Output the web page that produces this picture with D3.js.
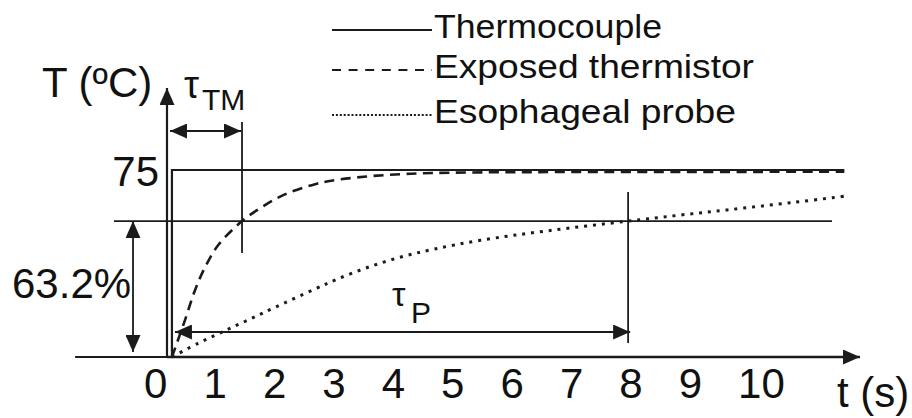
<!DOCTYPE html>
<html>
<head>
<meta charset="utf-8">
<script src="https://cdn.jsdelivr.net/npm/d3@7"></script>
<style>
  html, body { margin: 0; padding: 0; background: #fff; }
  svg { display: block; font-family: "Liberation Sans", Arial, sans-serif; }
</style>
</head>
<body>
<svg id="chart" width="912" height="418"></svg>
<script>
// values (t in s, T in the drawn temperature units)
const tickValues = [0, 1, 2, 3, 4, 5, 6, 7, 8, 9, 10];
const yTickValues = [75];

const thermoT = [-1.35, 0.28, 0.28, 11.6];
const thermoV = [0, 0, 75, 75];

const thermistorT = [0.28, 0.50, 0.67, 0.84, 1.06, 1.46, 1.80, 2.18, 2.69, 2.99, 3.56, 4.12, 4.68, 5.80, 8.00, 11.6];
const thermistorV = [0, 14.8, 26.9, 36.1, 44.9, 54.5, 60.2, 65.2, 69.3, 70.8, 72.4, 73.3, 73.8, 74.1, 74.2, 74.3];

const probeT = [0.28, 0.72, 1.14, 1.56, 2.02, 2.69, 3.06, 3.56, 4.12, 4.68, 5.47, 6.60, 7.96, 8.83, 9.63, 10.74, 11.65];
const probeV = [0, 5.5, 10.2, 14.8, 20.0, 27.3, 31.2, 35.8, 40.0, 43.2, 46.8, 50.6, 54.5, 56.9, 59.0, 62.0, 64.6];

const legendLabels = ["Thermocouple", "Exposed thermistor", "Esophageal probe"];

// annotation values
const stepTime = 0.28;
const tauTM = 1.46;
const tauP = 7.96;
const level632 = 54.5;

const ink = "#1b1b1b";
const svg = d3.select("#chart");

const x = d3.scaleLinear().domain([0, 10]).range([155.3, 749.3]);
const y = d3.scaleLinear().domain([0, 75]).range([357, 170]);

const axisX = 167; // where the T axis stands
const baseY = y(0);

// arrow head
const defs = svg.append("defs");
defs.append("marker")
    .attr("id", "arrow")
    .attr("viewBox", "0 0 17 15")
    .attr("refX", 17).attr("refY", 7.5)
    .attr("markerWidth", 17).attr("markerHeight", 15)
    .attr("markerUnits", "userSpaceOnUse")
    .attr("orient", "auto-start-reverse")
  .append("path")
    .attr("d", "M0,0L17,7.5L0,15Z")
    .attr("fill", ink);

const g = svg.append("g");

function hline(x1, x2, yy, w, arrows) {
    const l = g.append("line")
        .attr("x1", x1).attr("x2", x2).attr("y1", yy).attr("y2", yy)
        .attr("stroke", ink).attr("stroke-width", w);
    if (arrows === "end" || arrows === "both") l.attr("marker-end", "url(#arrow)");
    if (arrows === "both") l.attr("marker-start", "url(#arrow)");
    return l;
}
function vline(xx, y1, y2, w, arrows) {
    const l = g.append("line")
        .attr("x1", xx).attr("x2", xx).attr("y1", y1).attr("y2", y2)
        .attr("stroke", ink).attr("stroke-width", w);
    if (arrows === "end" || arrows === "both") l.attr("marker-end", "url(#arrow)");
    if (arrows === "both") l.attr("marker-start", "url(#arrow)");
    return l;
}

// axes lines with arrows
hline(axisX, 860, baseY, 2.4, "end");
vline(axisX, baseY, 88, 2.2, "end");

// tick labels
const xAxis = d3.axisBottom(x).tickValues(tickValues).tickSize(0);
const gx = g.append("g").attr("transform", "translate(0," + baseY + ")").call(xAxis);
gx.select(".domain").remove();
gx.selectAll("text")
    .attr("y", 41).attr("dy", null)
    .attr("dx", -11.7)
    .attr("text-anchor", "start")
    .attr("font-size", 42)
    .attr("font-family", "Liberation Sans, Arial, sans-serif")
    .attr("fill", "#111");

const yAxis = d3.axisLeft(y).tickValues(yTickValues).tickSize(0);
const gy = g.append("g").attr("transform", "translate(" + (axisX - 6) + ",0)").call(yAxis);
gy.select(".domain").remove();
gy.selectAll("text")
    .attr("x", -2).attr("dy", "0.36em")
    .attr("font-size", 42)
    .attr("font-family", "Liberation Sans, Arial, sans-serif")
    .attr("fill", "#111");

// curves
const lineOf = (ts, vs, curve) => d3.line()
    .x((d, i) => x(ts[i]))
    .y((d, i) => y(vs[i]))
    .curve(curve)(ts);

g.append("path")
    .attr("d", lineOf(thermoT, thermoV, d3.curveLinear))
    .attr("fill", "none").attr("stroke", ink).attr("stroke-width", 2.2);

g.append("path")
    .attr("d", lineOf(thermistorT, thermistorV, d3.curveCatmullRom.alpha(0.5)))
    .attr("fill", "none").attr("stroke", ink).attr("stroke-width", 2.6)
    .attr("stroke-dasharray", "10,6.5");

g.append("path")
    .attr("d", lineOf(probeT, probeV, d3.curveCatmullRom.alpha(0.5)))
    .attr("fill", "none").attr("stroke", ink).attr("stroke-width", 3)
    .attr("stroke-dasharray", "3,5.9");

// 63.2 % level and time constants
hline(114, 832, y(level632), 1.8);
vline(x(tauTM), 122, 253, 1.8);
vline(x(tauP), 192, 343, 1.8);
hline(axisX + 3, x(tauTM) - 1, 131, 1.8, "both");
hline(x(stepTime) + 3, x(tauP) + 2, 332, 1.8, "both");
vline(133, y(level632), 352, 1.8, "both");

// labels
const txt = (s, xx, yy, size) => g.append("text")
    .attr("x", xx).attr("y", yy)
    .attr("font-size", size)
    .attr("fill", "#111")
    .text(s);

txt("T (\u00baC)", 42, 97, 42);
txt("63.2%", 12, 298, 42);
txt("t (s)", 837, 407, 42);

txt("\u03c4", 184, 98, 38);
txt("TM", 202, 110, 30);
txt("\u03c4", 392, 306, 34);
txt("P", 411, 323, 30);

// legend
const legendY = [30, 70, 115];
const legendBase = [38, 78, 123];
const legendWidths = [228, 320, 302];
const legendDash = [null, "9,7.6", "2,1.9"];
const legendStroke = [2, 2, 2];

legendLabels.forEach((name, i) => {
    g.append("line")
        .attr("x1", 332).attr("x2", 432)
        .attr("y1", legendY[i]).attr("y2", legendY[i])
        .attr("stroke", ink).attr("stroke-width", legendStroke[i])
        .attr("stroke-dasharray", legendDash[i]);
    g.append("text")
        .attr("x", 434).attr("y", legendBase[i])
        .attr("font-size", 33)
        .attr("textLength", legendWidths[i])
        .attr("lengthAdjust", "spacingAndGlyphs")
        .attr("fill", "#111")
        .text(name);
});
</script>
</body>
</html>
